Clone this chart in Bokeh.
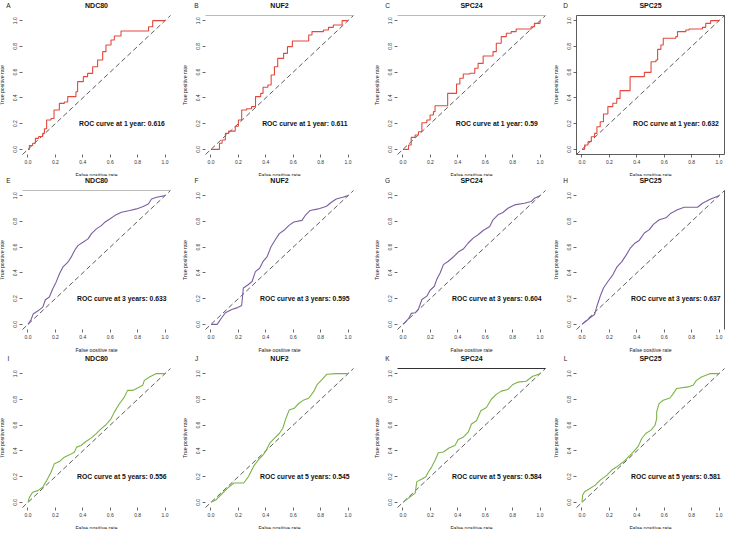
from bokeh.plotting import figure
from bokeh.models import (Range1d, FixedTicker, PrintfTickFormatter, Label,
                          LinearAxis, BoxAnnotation)
from bokeh.layouts import column, row
from bokeh.embed import file_html
from bokeh.resources import INLINE

# ---------------- data ----------------
genes = ["NDC80", "NUF2", "SPC24", "SPC25"]
panel_letters = ["A", "B", "C", "D", "E", "F", "G", "H", "I", "J", "K", "L"]
time_labels = ["1 year", "3 years", "5 years"]
auc_values = [[0.616, 0.611, 0.59, 0.632],
              [0.633, 0.595, 0.604, 0.637],
              [0.556, 0.545, 0.584, 0.581]]
tick_values = [0.0, 0.2, 0.4, 0.6, 0.8, 1.0]

# 1 year
fpr_A = [0, 0.01, 0.034, 0.054, 0.078, 0.107, 0.12, 0.136, 0.168, 0.19, 0.229, 0.265, 0.29, 0.338, 0.35, 0.362, 0.404, 0.435, 0.472, 0.508, 0.545, 0.569, 0.606, 0.63, 0.679, 0.861, 0.88, 0.91, 1.0]
tpr_A = [0, 0.03, 0.047, 0.085, 0.10, 0.124, 0.16, 0.228, 0.24, 0.306, 0.357, 0.368, 0.41, 0.41, 0.448, 0.526, 0.565, 0.59, 0.642, 0.694, 0.759, 0.811, 0.85, 0.881, 0.92, 0.92, 0.953, 1.0, 1.0]
fpr_B = [0, 0.052, 0.062, 0.081, 0.105, 0.129, 0.165, 0.177, 0.2, 0.224, 0.26, 0.296, 0.325, 0.363, 0.38, 0.415, 0.439, 0.463, 0.487, 0.53, 0.558, 0.594, 0.69, 0.713, 0.737, 0.821, 0.857, 0.893, 0.94, 0.957, 1.0]
tpr_B = [0, 0, 0.047, 0.073, 0.124, 0.142, 0.142, 0.18, 0.228, 0.306, 0.316, 0.332, 0.41, 0.435, 0.482, 0.5, 0.578, 0.642, 0.707, 0.746, 0.798, 0.842, 0.842, 0.889, 0.915, 0.927, 0.948, 0.966, 0.966, 1.0, 1.0]
fpr_C = [0, 0.041, 0.06, 0.089, 0.113, 0.138, 0.174, 0.198, 0.222, 0.234, 0.307, 0.326, 0.367, 0.391, 0.415, 0.44, 0.488, 0.524, 0.548, 0.585, 0.633, 0.657, 0.681, 0.717, 0.754, 0.79, 0.826, 0.899, 0.935, 0.959, 1.0]
tpr_C = [0, 0.034, 0.093, 0.111, 0.137, 0.207, 0.228, 0.267, 0.293, 0.339, 0.339, 0.435, 0.435, 0.508, 0.552, 0.585, 0.591, 0.63, 0.668, 0.725, 0.725, 0.759, 0.824, 0.876, 0.902, 0.915, 0.935, 0.935, 0.953, 0.979, 1.0]
fpr_D = [0, 0.019, 0.044, 0.068, 0.092, 0.109, 0.133, 0.157, 0.189, 0.225, 0.254, 0.278, 0.322, 0.351, 0.431, 0.455, 0.479, 0.504, 0.54, 0.552, 0.576, 0.593, 0.685, 0.697, 0.758, 0.782, 0.879, 0.903, 0.939, 1.0]
tpr_D = [0, 0.034, 0.06, 0.098, 0.124, 0.176, 0.215, 0.275, 0.332, 0.358, 0.396, 0.456, 0.456, 0.565, 0.565, 0.598, 0.598, 0.681, 0.694, 0.777, 0.811, 0.863, 0.876, 0.915, 0.927, 0.935, 0.948, 0.979, 1.0, 1.0]
# 3 years
fpr_E = [0, 0.022, 0.039, 0.071, 0.108, 0.127, 0.156, 0.181, 0.205, 0.23, 0.254, 0.291, 0.315, 0.34, 0.364, 0.401, 0.438, 0.462, 0.499, 0.535, 0.56, 0.597, 0.633, 0.682, 0.743, 0.792, 0.841, 0.878, 0.902, 0.939, 1.0]
tpr_E = [0, 0.036, 0.083, 0.103, 0.134, 0.191, 0.212, 0.276, 0.328, 0.393, 0.444, 0.483, 0.522, 0.574, 0.612, 0.638, 0.664, 0.703, 0.742, 0.767, 0.793, 0.819, 0.845, 0.871, 0.884, 0.897, 0.915, 0.935, 0.974, 0.987, 1.0]
fpr_F = [0, 0.045, 0.069, 0.105, 0.152, 0.188, 0.224, 0.236, 0.271, 0.3, 0.324, 0.355, 0.379, 0.41, 0.438, 0.467, 0.498, 0.533, 0.569, 0.605, 0.664, 0.688, 0.724, 0.783, 0.843, 0.879, 0.914, 0.962, 1.0]
tpr_F = [0, 0, 0.038, 0.09, 0.115, 0.128, 0.146, 0.282, 0.308, 0.333, 0.41, 0.436, 0.487, 0.526, 0.603, 0.654, 0.705, 0.731, 0.769, 0.795, 0.808, 0.846, 0.885, 0.897, 0.918, 0.949, 0.974, 0.987, 1.0]
fpr_G = [0, 0.041, 0.06, 0.089, 0.114, 0.138, 0.174, 0.198, 0.229, 0.246, 0.271, 0.295, 0.331, 0.367, 0.403, 0.44, 0.476, 0.512, 0.548, 0.585, 0.633, 0.657, 0.693, 0.729, 0.766, 0.814, 0.886, 0.935, 0.959, 1.0]
tpr_G = [0, 0.044, 0.085, 0.09, 0.121, 0.193, 0.219, 0.265, 0.296, 0.348, 0.399, 0.464, 0.49, 0.523, 0.562, 0.585, 0.632, 0.67, 0.696, 0.729, 0.76, 0.812, 0.851, 0.869, 0.902, 0.928, 0.941, 0.954, 0.979, 1.0]
fpr_H = [0, 0.031, 0.068, 0.092, 0.109, 0.133, 0.157, 0.189, 0.225, 0.254, 0.291, 0.322, 0.351, 0.383, 0.419, 0.455, 0.492, 0.521, 0.564, 0.613, 0.649, 0.697, 0.746, 0.843, 0.879, 0.939, 1.0]
tpr_H = [0, 0.026, 0.059, 0.077, 0.141, 0.218, 0.282, 0.333, 0.385, 0.444, 0.487, 0.538, 0.59, 0.628, 0.654, 0.71, 0.736, 0.777, 0.813, 0.828, 0.864, 0.89, 0.91, 0.91, 0.941, 0.974, 1.0]
# 5 years
fpr_I = [0, 0.01, 0.034, 0.071, 0.107, 0.136, 0.168, 0.192, 0.229, 0.265, 0.302, 0.338, 0.355, 0.387, 0.423, 0.46, 0.496, 0.533, 0.569, 0.606, 0.63, 0.667, 0.703, 0.727, 0.764, 0.8, 0.837, 0.849, 0.886, 0.934, 1.0]
tpr_I = [0, 0.039, 0.078, 0.091, 0.117, 0.169, 0.234, 0.299, 0.317, 0.351, 0.369, 0.39, 0.429, 0.442, 0.473, 0.499, 0.532, 0.571, 0.603, 0.649, 0.701, 0.766, 0.818, 0.87, 0.87, 0.888, 0.909, 0.948, 0.974, 1.0, 1.0]
fpr_J = [0, 0.038, 0.073, 0.121, 0.168, 0.239, 0.275, 0.31, 0.346, 0.382, 0.405, 0.429, 0.464, 0.5, 0.524, 0.547, 0.571, 0.607, 0.642, 0.678, 0.713, 0.749, 0.773, 0.808, 0.844, 0.915, 1.0]
tpr_J = [0, 0.021, 0.059, 0.111, 0.15, 0.15, 0.202, 0.279, 0.331, 0.37, 0.408, 0.46, 0.499, 0.537, 0.576, 0.654, 0.718, 0.731, 0.77, 0.796, 0.809, 0.86, 0.912, 0.951, 0.995, 1.0, 1.0]
fpr_K = [0, 0.041, 0.089, 0.101, 0.138, 0.167, 0.186, 0.21, 0.234, 0.258, 0.295, 0.336, 0.379, 0.403, 0.44, 0.476, 0.5, 0.536, 0.568, 0.609, 0.645, 0.681, 0.717, 0.766, 0.802, 0.838, 0.899, 0.947, 1.0]
tpr_K = [0, 0.033, 0.072, 0.161, 0.182, 0.199, 0.238, 0.276, 0.327, 0.386, 0.391, 0.422, 0.442, 0.488, 0.506, 0.545, 0.609, 0.634, 0.711, 0.737, 0.801, 0.839, 0.864, 0.877, 0.916, 0.934, 0.941, 0.98, 1.0]
fpr_L = [0, 0.005, 0.019, 0.061, 0.097, 0.133, 0.182, 0.218, 0.254, 0.303, 0.339, 0.375, 0.412, 0.436, 0.465, 0.504, 0.533, 0.545, 0.545, 0.562, 0.593, 0.642, 0.666, 0.69, 0.775, 0.811, 0.835, 0.872, 0.932, 1.0]
tpr_L = [0, 0.057, 0.083, 0.109, 0.134, 0.173, 0.212, 0.251, 0.276, 0.315, 0.354, 0.393, 0.439, 0.496, 0.535, 0.561, 0.599, 0.651, 0.703, 0.767, 0.793, 0.811, 0.845, 0.884, 0.897, 0.91, 0.948, 0.974, 1.0, 1.0]

fpr_all = [fpr_A, fpr_B, fpr_C, fpr_D, fpr_E, fpr_F, fpr_G, fpr_H, fpr_I, fpr_J, fpr_K, fpr_L]
tpr_all = [tpr_A, tpr_B, tpr_C, tpr_D, tpr_E, tpr_F, tpr_G, tpr_H, tpr_I, tpr_J, tpr_K, tpr_L]

# ---------------- styling / layout ----------------
curve_colors = ["#E4483D", "#7D5DA3", "#7BB444"]
LO, HI = -0.04, 1.04            # R-style plot region (4% padding)
BOX_W, BOX_H = 148, 139         # pixel size of the plot region
PX = (HI - LO) / BOX_W
PY = (HI - LO) / BOX_H
col_width = [182, 190, 182, 172]
col_left = [22, 23, 25, 22]     # px from canvas left to plot region
row_height = [176, 176, 177]
row_top = [15, 14, 16]          # px from canvas top to plot region
letter_dx = [14, 9, 10, 11]     # px left of plot region
FONT = "Liberation Sans"

rows = []
for r in range(3):
    figs = []
    for c in range(4):
        k = r * 4 + c
        W, H = col_width[c], row_height[r]
        L, T = col_left[c], row_top[r]
        B = H - T - BOX_H
        xr = Range1d(LO - L * PX, LO + (W - L) * PX)
        yr = Range1d(LO - B * PY, HI + T * PY)
        p = figure(width=W, height=H, x_range=xr, y_range=yr,
                   output_backend="svg", toolbar_location=None,
                   x_axis_location=None, y_axis_location=None,
                   min_border_left=0, min_border_right=0,
                   min_border_top=0, min_border_bottom=0)
        p.grid.visible = False
        p.outline_line_color = None
        p.background_fill_color = "white"
        p.border_fill_color = "white"

        xax = LinearAxis(fixed_location=LO, bounds=(0, 1))
        yax = LinearAxis(fixed_location=LO, bounds=(0, 1))
        for ax in (xax, yax):
            ax.ticker = FixedTicker(ticks=tick_values)
            ax.formatter = PrintfTickFormatter(format="%.1f")
            ax.axis_line_color = None
            ax.major_tick_in = 0
            ax.major_tick_out = 3
            ax.major_tick_line_color = "#444444"
            ax.major_tick_line_width = 0.8
            ax.minor_tick_line_color = None
            ax.major_label_text_font = FONT
            ax.major_label_text_font_size = "5px"
            ax.major_label_text_color = "#333333"
            ax.major_label_standoff = 2
            ax.axis_label_text_font = FONT
            ax.axis_label_text_font_size = "5.2px"
            ax.axis_label_text_font_style = "normal"
            ax.axis_label_text_color = "#222222"
        xax.axis_label = "False positive rate"
        yax.axis_label = "True positive rate"
        xax.axis_label_standoff = 5
        yax.axis_label_standoff = 6
        yax.major_label_orientation = "vertical"
        p.add_layout(xax, "below")
        p.add_layout(yax, "left")

        # reference diagonal across the plot region
        p.line([LO, HI], [LO, HI], line_color="#333333", line_width=0.8, line_dash="5 3")
        if r == 0:
            p.step(fpr_all[k], tpr_all[k], mode="after",
                   line_color=curve_colors[r], line_width=1.1)
        else:
            p.line(fpr_all[k], tpr_all[k], line_color=curve_colors[r], line_width=1.1)

        title_y = HI + 10 * PY
        p.add_layout(Label(x=0.5, y=title_y, text=genes[c], text_align="center",
                           text_baseline="middle", text_font=FONT,
                           text_font_size="7px", text_font_style="bold",
                           text_color="#111111"))
        p.add_layout(Label(x=LO - letter_dx[c] * PX, y=title_y, text=panel_letters[k],
                           text_align="center", text_baseline="middle",
                           text_font=FONT, text_font_size="6.5px",
                           text_color="#222222"))
        p.add_layout(Label(x=0.685, y=0.2,
                           text="ROC curve at " + time_labels[r] + ": " + str(auc_values[r][c]),
                           text_align="center", text_baseline="middle",
                           text_font=FONT, text_font_size="6.8px",
                           text_font_style="bold", text_color="#111111"))

        # frame edge lines visible in the original image
        letter = panel_letters[k]
        if letter in ("B", "C", "E"):
            p.line([LO, HI], [HI, HI], line_color="#BBBBBB", line_width=1)
        if letter == "K":
            p.line([LO, HI], [HI, HI], line_color="#333333", line_width=1)
        if letter == "H":
            p.line([HI, HI], [LO, HI], line_color="#555555", line_width=1)
        if letter == "D":
            p.add_layout(BoxAnnotation(left=LO, right=HI, bottom=LO, top=HI,
                                       fill_alpha=0, line_alpha=1,
                                       line_color="#333333", line_width=0.8))
        figs.append(p)
    rows.append(row(*figs, spacing=0))

layout = column(*rows, spacing=0)
open("out.html", "w").write(file_html(layout, INLINE))
